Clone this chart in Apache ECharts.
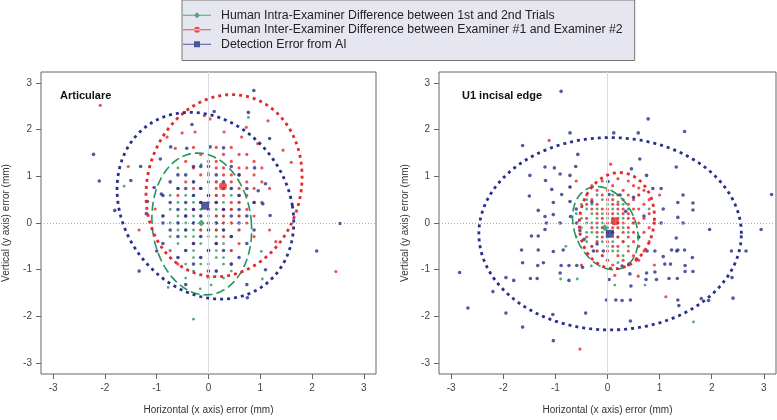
<!DOCTYPE html>
<html><head><meta charset="utf-8">
<script src="https://cdn.jsdelivr.net/npm/echarts@6/dist/echarts.min.js"></script>
<style>html,body{margin:0;padding:0;background:#fff}#c{width:777px;height:420px}</style>
</head><body><div id="c"></div>
<script>
// ---------- data (mm) ----------
const seriesNames = ['Human Intra-Examiner Difference between 1st and 2nd Trials',
  'Human Inter-Examiner Difference between Examiner #1 and Examiner #2',
  'Detection Error from AI'];
const panelTitles = ['Articulare', 'U1 incisal edge'];
const xTicks = [-3,-2,-1,0,1,2,3];
const yTicks = [-3,-2,-1,0,1,2,3];

const leftIntra = [
[-0.29,0.88],[0,0.88],[0.15,0.88],
[-0.59,0.74],[-0.15,0.74],[0.29,0.74],[0.44,0.74],
[-0.74,0.59],[-0.44,0.59],[-0.29,0.59],[0,0.59],[0.15,0.59],[0.44,0.59],
[-0.59,0.44],[-0.29,0.44],[-0.15,0.44],[0,0.44],[0.29,0.44],[0.59,0.44],
[-0.74,0.29],[-0.44,0.29],[-0.29,0.29],[-0.15,0.29],[0,0.29],[0.15,0.29],[0.44,0.29],
[-0.88,0.15],[-0.59,0.15],[-0.44,0.15],[-0.29,0.15],[-0.15,0.15],[0,0.15],[0.15,0.15],[0.29,0.15],[0.59,0.15],
[-0.74,0],[-0.59,0],[-0.44,0],[-0.29,0],[0,0],[0.15,0],[0.29,0],[0.44,0],
[-0.59,-0.15],[-0.44,-0.15],[-0.29,-0.15],[-0.15,-0.15],[0,-0.15],[0.15,-0.15],[0.29,-0.15],[0.59,-0.15],
[-0.74,-0.29],[-0.44,-0.29],[-0.29,-0.29],[-0.15,-0.29],[0,-0.29],[0.15,-0.29],[0.44,-0.29],
[-0.59,-0.44],[-0.29,-0.44],[-0.15,-0.44],[0.15,-0.44],[0.29,-0.44],
[-0.44,-0.59],[-0.29,-0.59],[0,-0.59],[0.15,-0.59],[0.44,-0.59],
[-0.59,-0.74],[-0.29,-0.74],[-0.15,-0.74],[0.15,-0.74],[0.29,-0.74],
[-0.44,-0.88],[-0.15,-0.88],[0,-0.88],[0.29,-0.88],
[-0.29,-1.03],[0.15,-1.03],[0.44,-1.03],
[-0.44,-1.18],[0,-1.18],[0.29,-1.18],
[-0.78,-1.38],[-0.16,-1.41],[0.05,-1.33],[1.04,-1.2],[-0.29,-2.06],[0.77,2.26],[-0.14,1.25],[0,1.07],[-1.63,0.79],[1.02,-0.61],[-0.59,1.18],[0.59,1.03]
];
const leftInter = [
[0.15,1.62],[0.44,1.62],[-0.29,1.62],
[-0.15,1.47],[0.29,1.47],[0.59,1.47],[0.74,1.47],
[0,1.32],[0.15,1.32],[0.44,1.32],[0.88,1.32],[-0.44,1.32],
[-0.29,1.18],[0.15,1.18],[0.29,1.18],[0.59,1.18],[0.74,1.18],[1.03,1.18],
[-0.15,1.03],[0,1.03],[0.29,1.03],[0.44,1.03],[0.59,1.03],[0.88,1.03],
[-0.44,0.88],[0,0.88],[0.15,0.88],[0.44,0.88],[0.74,0.88],[1.03,0.88],
[-0.29,0.74],[-0.15,0.74],[0.15,0.74],[0.29,0.74],[0.59,0.74],[0.88,0.74],[1.18,0.74],
[-0.59,0.59],[0,0.59],[0.15,0.59],[0.29,0.59],[0.59,0.59],[0.74,0.59],
[-0.15,0.44],[0.15,0.44],[0.44,0.44],[0.59,0.44],[0.88,0.44],[1.03,0.44],
[-0.29,0.29],[0,0.29],[0.29,0.29],[0.44,0.29],[0.74,0.29],
[-0.44,0.15],[0.15,0.15],[0.29,0.15],[0.59,0.15],[0.88,0.15],
[0,0],[0.29,0],[0.44,0],[0.74,0],
[-0.15,-0.15],[0.15,-0.15],[0.59,-0.15],[1.18,-0.15],
[0.29,-0.29],[0.44,-0.29],[0.88,-0.29],
[-0.29,-0.44],[0.15,-0.44],[0.59,-0.44],
[0,-0.59],[0.44,-0.59],[-0.74,-0.59],
[-2.09,2.52],[-1.34,-0.15],[-1.55,1.21],[2.46,-1.04],[1.15,2.19],[1.44,1.56],[-0.08,2.3],[-0.26,1.95],[0.03,2.23],
[0.64,1.84],[0.73,2.05],[-0.51,1.93],[-0.8,1.84],[-0.64,1.6],[0.3,1.95],[-0.59,-0.88],[0.44,-0.88],[1.3,-0.4],[-1.03,0.3],[1.6,1.3],[0.95,1.7]
];
const leftAI = [
[-0.29,1.21],[-0.15,1.21],[0,1.21],[0.44,1.21],
[-0.59,1.03],[-0.44,1.03],[0.15,1.03],[0.59,1.03],
[-0.74,0.88],[-0.29,0.88],[0.29,0.88],
[-0.59,0.74],[-0.44,0.74],[-0.15,0.74],[0.44,0.74],[0.74,0.74],
[-0.88,0.59],[-0.29,0.59],[0,0.59],[0.59,0.59],
[-0.74,0.44],[-0.44,0.44],[-0.15,0.44],[0.15,0.44],[0.88,0.44],
[-0.59,0.29],[-0.29,0.29],[0.29,0.29],[0.59,0.29],
[-0.88,0.15],[-0.44,0.15],[-0.15,0.15],[0.44,0.15],[0.74,0.15],
[-0.88,0],[-0.59,0],[-0.29,0],[0.15,0],[0.59,0],
[-0.74,-0.15],[-0.44,-0.15],[0,-0.15],[0.29,-0.15],[0.88,-0.15],
[-0.59,-0.29],[-0.15,-0.29],[0.44,-0.29],
[-0.88,-0.44],[-0.29,-0.44],[0.15,-0.44],[0.74,-0.44],
[-0.44,-0.59],[0,-0.59],[0.29,-0.59],
[-0.59,-0.74],[-0.15,-0.74],[0.59,-0.74],
[-0.29,-0.88],[0.44,-0.88],
[-1.34,-1.03],[0,-1.03],[0.15,-1.03],
[-0.44,-1.32],[0.74,-1.32],
[0.875,2.84],[-2.22,1.47],[-2.11,0.9],[-1.81,0.27],[0.11,2.39],[-0.32,2.11],[0.77,2.37],[1.18,1.81],[-0.73,1.63],[0.29,1.61],
[0.03,1.63],[-0.93,1.37],[-1.31,1.21],[-1.5,0.91],[2.54,-0.01],[-0.42,1.6],[0.89,1.18],[1.1,0.84],[0.96,0.69],[1.19,0.16],
[1.05,0.41],[-1.18,0.46],[-1.05,0.76],[-0.91,0.62],[2.09,-0.6],[1.1,-1.0],[0.75,-1.6],[-1.0,-0.6],[-1.2,0.2]
];
const rightIntra = [
[-0.2,0.6],[0.1,0.6],
[-0.4,0.5],[-0.1,0.5],[0.2,0.45],
[-0.5,0.4],[-0.3,0.4],[0,0.4],[0.3,0.4],
[-0.4,0.3],[-0.2,0.3],[0.1,0.3],[0.4,0.3],
[-0.6,0.2],[-0.3,0.2],[-0.1,0.2],[0.2,0.2],
[-0.5,0.1],[-0.2,0.1],[0,0.1],[0.3,0.1],
[-0.4,0],[-0.3,0],[-0.1,0],[0.1,0],[0.2,0],[0.5,0],
[-0.5,-0.1],[-0.2,-0.1],[0,-0.1],[0.3,-0.1],
[-0.4,-0.2],[-0.3,-0.2],[-0.1,-0.2],[0.1,-0.2],[0.4,-0.2],
[-0.6,-0.3],[-0.2,-0.3],[0,-0.3],[0.2,-0.3],
[-0.4,-0.4],[-0.1,-0.4],[0.1,-0.4],[0.3,-0.4],
[-0.3,-0.5],[0,-0.5],[0.4,-0.5],
[-0.2,-0.6],[0.1,-0.6],[0.2,-0.6],
[-0.1,-0.7],[0.3,-0.7],
[0,-0.8],[0.2,-0.85],
[-0.9,-1.2],[-0.58,-1.2],[1.65,-2.12],[0.72,-1.33],[0.14,-1.33],[-0.31,-0.92],[-0.72,0.77],[0.8,0.3],[-0.8,-0.5],[0.6,0.6]
];
const rightInter = [
[-0.1,0.9],[0.2,0.95],[0.4,0.9],
[-0.3,0.8],[0.1,0.8],[0.5,0.8],[0.6,0.75],
[-0.2,0.7],[0,0.7],[0.3,0.7],[0.7,0.7],
[-0.4,0.6],[-0.1,0.6],[0.2,0.6],[0.4,0.6],[0.6,0.6],
[-0.3,0.5],[0,0.5],[0.1,0.5],[0.3,0.5],[0.5,0.5],[0.8,0.5],
[-0.4,0.4],[-0.2,0.4],[0.1,0.4],[0.2,0.4],[0.4,0.4],[0.7,0.4],
[-0.3,0.3],[-0.1,0.3],[0,0.3],[0.2,0.3],[0.3,0.3],[0.5,0.3],[0.6,0.3],
[-0.2,0.2],[0,0.2],[0.1,0.2],[0.3,0.2],[0.4,0.2],[0.8,0.2],
[-0.4,0.1],[-0.1,0.1],[0.1,0.1],[0.2,0.1],[0.4,0.1],[0.5,0.1],[0.7,0.1],
[-0.2,0],[0,0],[0.2,0],[0.3,0],[0.5,0],[0.6,0],
[-0.3,-0.1],[-0.1,-0.1],[0.1,-0.1],[0.2,-0.1],[0.4,-0.1],[0.8,-0.1],
[-0.2,-0.2],[0,-0.2],[0.1,-0.2],[0.3,-0.2],[0.5,-0.2],[0.7,-0.2],
[-0.4,-0.3],[-0.1,-0.3],[0.2,-0.3],[0.4,-0.3],[0.6,-0.3],
[-0.2,-0.4],[0,-0.4],[0.3,-0.4],[0.5,-0.4],[0.8,-0.4],
[-0.3,-0.5],[0.1,-0.5],[0.2,-0.5],[0.6,-0.5],
[-0.2,-0.6],[0,-0.6],[0.4,-0.6],[0.7,-0.6],
[-0.1,-0.7],[0.2,-0.7],[0.5,-0.7],
[0,-0.8],[0.3,-0.8],[0.6,-0.8],
[0.1,-0.9],[0.4,-0.9],
[-1.12,1.77],[0.06,1.26],[1.12,-1.58],[-0.53,-2.7],[0.59,-1.14],[0.14,-1.12],[0.9,-0.9],[-0.5,-0.9],[1.0,0.6],[-0.6,0.9]
];
const rightAI = [
[-0.89,2.82],[0.78,2.23],[-0.72,1.93],[0.12,1.93],[0.59,1.93],[1.48,1.96],[-1.63,1.66],[-0.57,1.47],[0.62,1.37],[-1.2,1.2],
[-1.02,1.18],[-0.61,1.21],[0.46,1.16],[1.32,1.2],[-1.49,1.02],[-0.91,1.05],[-0.72,1.02],[0.75,1.02],[-1.19,0.91],[0.01,0.89],
[1.03,0.74],[0.87,0.74],[-1.07,0.72],[-0.72,0.77],[-1.5,0.58],[-0.88,0.61],[0.03,0.61],[0.24,0.6],[1.45,0.6],[3.15,0.61],
[-1.04,0.44],[-0.72,0.46],[1.35,0.44],[1.64,0.43],[-1.33,0.27],[1.64,0.28],[1.07,0.3],[-1.04,0.18],[-1.2,0.14],[-0.71,0.14],
[1.35,0.12],[-1.17,0],[-0.91,0],[-0.59,0],[1.03,0],[1.45,0],[-1.2,-0.14],[-0.53,-0.16],[1.96,-0.14],[2.95,-0.14],
[-1.46,-0.28],[-1.33,-0.28],[1.32,-0.32],[-1.65,-0.58],[-1.33,-0.58],[-1.04,-0.61],[-0.85,-0.58],[1.07,-0.72],[1.23,-0.58],[1.35,-0.58],
[1.48,-0.58],[2.38,-0.6],[2.66,-0.6],
[-2.84,-1.06],[-2.68,-1.82],[-1.63,-0.85],[-1.95,-1.17],[-1.8,-1.23],[-1.48,-1.19],[-1.35,-1.19],[-1.23,-0.85],[-1.34,-0.91],[-2.2,-1.47],
[-1.95,-1.93],[-1.63,-2.23],[-1.05,-1.96],[-1.04,-2.52],[-0.42,-1.93],[-0.89,-0.91],[-0.91,-1.07],[-0.74,-0.91],[-0.74,-1.23],[-0.59,-0.91],
[-0.48,-0.95],[-0.27,-0.6],[-0.08,-0.6],[0.03,-1.21],[-0.02,-1.65],[0.16,-1.65],[0.28,-1.66],[0.44,-1.65],[0.44,-2.1],[0.45,-1.35],
[0.43,-1.09],[0.41,-0.88],[0.28,-0.92],[0.56,-0.77],[0.75,-1.07],[0.74,-1.21],[0.91,-1.05],[0.94,-1.21],[0.76,-0.6],[0.91,-0.6],
[1.1,-0.88],[1.21,-0.88],[1.18,-1.19],[1.34,-1.19],[1.35,-1.65],[1.37,-1.77],[1.49,-1.04],[1.49,-0.91],[1.64,-1.04],[1.63,-0.74],
[1.8,-1.62],[1.94,-1.66],[2.41,-1.61],[2.39,-1.17],[1.33,-0.6],
[-0.3,0.45],[0.35,0.25],[-0.45,-0.35],[0.6,-0.3],[-0.2,-0.45],[0.7,0.15],[-0.6,0.3],[0.5,0.55]
];
// mean markers [x, y]
const leftCenters = { intra: [-0.14, 0.0], inter: [0.28, 0.79], ai: [-0.065, 0.37] };
const rightCenters = { intra: [-0.05, -0.1], inter: [0.14, 0.035], ai: [0.045, -0.23] };
// ellipse params: [cx, cy, halfX, halfY, topShiftX]
const leftEllipses = { intra: [-0.13, -0.02, 0.96, 1.52, -0.08], inter: [0.3, 0.8, 1.5, 1.95, 0.15], ai: [-0.06, 0.37, 1.68, 2.0, -0.3] };
const rightEllipses = { intra: [-0.04, -0.11, 0.61, 0.89, -0.16], inter: [0.18, 0.05, 0.72, 1.03, 0.05], ai: [0.05, -0.23, 2.52, 2.06, 0] };

// ---------- chart ----------
const COL = { intra: '#24955c', inter: '#e5282c', ai: '#27308a' };
const FONT = 'Liberation Sans, Arial, sans-serif';
const LIM = 3.235;

function ellipse(p) {
  const pts = [];
  for (let i = 0; i <= 160; i++) {
    const t = 2 * Math.PI * i / 160;
    pts.push([p[0] + p[2] * Math.cos(t) + p[4] * Math.sin(t), p[1] + p[3] * Math.sin(t)]);
  }
  return pts;
}

const grids = [
  { left: 38, top: 72, width: 338, height: 308, show: true, borderColor: '#666', borderWidth: 1, backgroundColor: 'transparent' },
  { left: 439, top: 72, width: 337, height: 307, show: true, borderColor: '#666', borderWidth: 1, backgroundColor: 'transparent' }
];
const yNameGaps = [30, 29];
const xAxes = [], yAxes = [];
for (let i = 0; i < 2; i++) {
  xAxes.push({ gridIndex: i, type: 'value', min: -LIM, max: LIM,
    axisLine: { show: false, onZero: false },
    axisTick: { show: true, length: 5, lineStyle: { color: '#666' }, customValues: xTicks },
    axisLabel: { customValues: xTicks, color: '#444', fontSize: 10, margin: 9, fontFamily: FONT },
    splitLine: { show: false },
    name: 'Horizontal (x axis) error (mm)', nameLocation: 'middle', nameGap: 31,
    nameTextStyle: { color: '#333', fontSize: 10, fontFamily: FONT } });
  yAxes.push({ gridIndex: i, type: 'value', min: -LIM, max: LIM,
    axisLine: { show: false, onZero: false },
    axisTick: { show: true, length: 5, lineStyle: { color: '#666' }, customValues: yTicks },
    axisLabel: { customValues: yTicks, color: '#444', fontSize: 10, margin: 9, fontFamily: FONT },
    splitLine: { show: false },
    name: 'Vertical (y axis) error (mm)', nameLocation: 'middle', nameGap: yNameGaps[i], nameRotate: 90,
    nameTextStyle: { color: '#333', fontSize: 10, fontFamily: FONT } });
}

const panels = [
  { pts: { intra: leftIntra, inter: leftInter, ai: leftAI }, c: leftCenters, e: leftEllipses },
  { pts: { intra: rightIntra, inter: rightInter, ai: rightAI }, c: rightCenters, e: rightEllipses }
];
const keys = ['intra', 'inter', 'ai'];
const series = [];
panels.forEach((p, i) => {
  keys.forEach((k, j) => {
    const s = { type: 'scatter', name: seriesNames[j], xAxisIndex: i, yAxisIndex: i,
      data: p.pts[k], symbol: 'circle', symbolSize: k === 'ai' ? 3.6 : (k === 'inter' ? 3.2 : 2.8),
      itemStyle: { color: COL[k] }, z: 3 + (k === 'ai' ? 1 : 0), silent: true };
    if (k === 'intra') {
      s.markLine = { silent: true, symbol: 'none', label: { show: false }, animation: false,
        data: [ { xAxis: 0, lineStyle: { type: 'solid', color: '#dcdce4', width: 1 } },
                { yAxis: 0, lineStyle: { type: [1, 2], color: '#aaa', width: 1 } } ] };
      s.z = 2;
    }
    series.push(s);
  });
  keys.forEach((k) => {
    const isG = k === 'intra';
    series.push({ type: 'line', name: 'ell-' + k + i, xAxisIndex: i, yAxisIndex: i,
      data: ellipse(p.e[k]), showSymbol: false, symbol: 'none', silent: true, z: 5,
      lineStyle: { color: COL[k], width: isG ? 1.6 : 2.8, type: isG ? [9, 4] : [3, 4], cap: 'butt' } });
  });
  const shapes = { intra: 'diamond', inter: 'circle', ai: 'rect' };
  const sizes = { intra: 7, inter: 8, ai: 8 };
  keys.forEach((k) => {
    series.push({ type: 'scatter', name: 'ctr-' + k + i, xAxisIndex: i, yAxisIndex: i,
      data: [p.c[k]], symbol: shapes[k], symbolSize: sizes[k], itemStyle: { color: COL[k] }, z: 8, silent: true });
  });
});

const iconLine = 'M0,3.5H28V4.5H0Z';
const legendIcons = [
  'path://' + iconLine + 'M14,1L17,4L14,7L11,4Z',
  'path://' + iconLine + 'M11,4A3,3,0,1,0,17,4A3,3,0,1,0,11,4Z',
  'path://' + iconLine + 'M11,1H17V7H11Z'
];

const option = {
  animation: false,
  backgroundColor: '#fff',
  title: [
    { text: panelTitles[0], left: 55, top: 85, textStyle: { fontSize: 11, fontWeight: 'bold', color: '#111', fontFamily: FONT } },
    { text: panelTitles[1], left: 457, top: 85, textStyle: { fontSize: 11, fontWeight: 'bold', color: '#111', fontFamily: FONT } }
  ],
  legend: {
    orient: 'vertical', left: 182, top: 0,
    data: seriesNames.map((n, j) => ({ name: n, icon: legendIcons[j], itemStyle: { color: [COL.intra, COL.inter, COL.ai][j] } })),
    itemWidth: 28, itemHeight: 6, itemGap: 0, selectedMode: false,
    backgroundColor: '#e6e6f1', borderColor: '#777', borderWidth: 1, borderRadius: 0,
    padding: [8, 12, 9, 1],
    textStyle: { fontSize: 12.3, color: '#222', fontFamily: FONT, lineHeight: 14.5, padding: [0, 0, 0, 5] }
  },
  grid: grids, xAxis: xAxes, yAxis: yAxes, series: series
};
const chart = echarts.init(document.getElementById('c'), null, { renderer: 'canvas' });
chart.setOption(option);
</script></body></html>
